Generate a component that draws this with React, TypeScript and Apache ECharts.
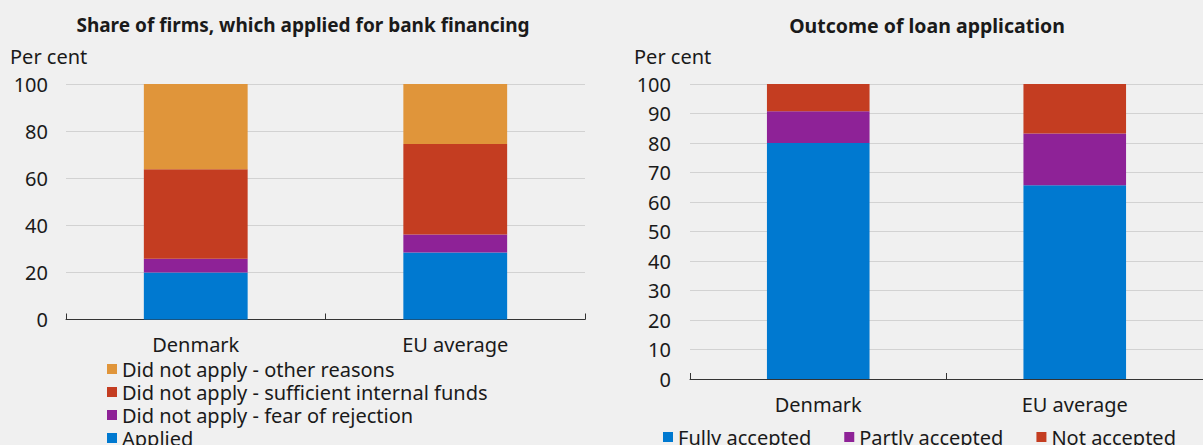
import React, { useEffect, useRef } from "react";
import * as echarts from "echarts";

const categories = ["Denmark", "EU average"];

// Left chart: share of firms, which applied for bank financing (per cent)
const applied = [20, 28.5];
const fearOfRejection = [5.8, 7.6];
const internalFunds = [38, 38.4];
const otherReasons = [36.2, 25.5];

// Right chart: outcome of loan application (per cent)
const fullyAccepted = [80, 65.7];
const partlyAccepted = [10.8, 17.5];
const notAccepted = [9.2, 16.8];

const leftLegend = [
  "Did not apply - other reasons",
  "Did not apply - sufficient internal funds",
  "Did not apply - fear of rejection",
  "Applied",
];
const rightLegend = ["Fully accepted", "Partly accepted", "Not accepted"];

const BLUE = "#0079D0";
const PURPLE = "#8E2297";
const RED = "#C43D21";
const ORANGE = "#E0953A";
const FONT = "Noto Sans";
const TXT = "#1a1a1a";

export default function App() {
  const ref = useRef<HTMLDivElement>(null);
  useEffect(() => {
    if (!ref.current) return;
    const chart = echarts.init(ref.current, undefined, { renderer: "svg" });
    const axisLabel = { color: TXT, fontSize: 20, fontFamily: FONT };
    const xAxisBase = {
      type: "category" as const,
      data: categories,
      axisLine: { lineStyle: { color: "#333", width: 1 } },
      axisTick: { show: true, inside: true, length: 6, lineStyle: { color: "#333" } },
      axisLabel: { ...axisLabel, margin: 15 },
    };
    const yAxisBase = {
      type: "value" as const,
      min: 0,
      max: 100,
      axisLine: { show: false },
      axisTick: { show: false },
      splitLine: { lineStyle: { color: "#d2d2d2", width: 1 } },
      axisLabel: { ...axisLabel, margin: 18 },
    };
    const bar = (name: string, data: number[], color: string, idx: number) => ({
      name,
      type: "bar" as const,
      stack: idx === 0 ? "left" : "right",
      xAxisIndex: idx,
      yAxisIndex: idx,
      barWidth: "40%",
      data,
      itemStyle: { color },
    });
    const legendText = { color: TXT, fontSize: 20, fontFamily: FONT, lineHeight: 20 };
    chart.setOption({
      animation: false,
      backgroundColor: "#F0F0F0",
      textStyle: { fontFamily: FONT },
      grid: [
        { left: 66, right: 618, top: 84, bottom: 125.5 },
        { left: 690, right: -7, top: 84, bottom: 66 },
      ],
      xAxis: [
        { ...xAxisBase, gridIndex: 0 },
        { ...xAxisBase, gridIndex: 1 },
      ],
      yAxis: [
        { ...yAxisBase, gridIndex: 0, interval: 20 },
        { ...yAxisBase, gridIndex: 1, interval: 10, axisLabel: { ...axisLabel, margin: 19 } },
      ],
      legend: [
        {
          data: leftLegend,
          orient: "vertical",
          left: 107,
          top: 359,
          height: 140,
          itemWidth: 10,
          itemHeight: 10,
          itemGap: 3,
          icon: "rect",
          textStyle: legendText,
          padding: 0,
        },
        {
          data: rightLegend,
          orient: "horizontal",
          left: 663,
          top: 427,
          width: 600,
          itemWidth: 10,
          itemHeight: 10,
          itemGap: 33,
          icon: "rect",
          textStyle: legendText,
          padding: 0,
        },
      ],
      graphic: [
        {
          type: "text",
          x: 303,
          y: 25,
          style: {
            text: "Share of firms, which applied for bank financing",
            fontSize: 19,
            fontWeight: "bold",
            fontFamily: FONT,
            fill: TXT,
            textAlign: "center",
            textVerticalAlign: "middle",
          },
        },
        {
          type: "text",
          x: 927,
          y: 25,
          style: {
            text: "Outcome of loan application",
            fontSize: 19.5,
            fontWeight: "bold",
            fontFamily: FONT,
            fill: TXT,
            textAlign: "center",
            textVerticalAlign: "middle",
          },
        },
        {
          type: "text",
          x: 10,
          y: 56,
          style: { text: "Per cent", fontSize: 20, fontFamily: FONT, fill: TXT, textVerticalAlign: "middle" },
        },
        {
          type: "text",
          x: 634,
          y: 56,
          style: { text: "Per cent", fontSize: 20, fontFamily: FONT, fill: TXT, textVerticalAlign: "middle" },
        },
      ],
      series: [
        bar("Applied", applied, BLUE, 0),
        bar("Did not apply - fear of rejection", fearOfRejection, PURPLE, 0),
        bar("Did not apply - sufficient internal funds", internalFunds, RED, 0),
        bar("Did not apply - other reasons", otherReasons, ORANGE, 0),
        bar("Fully accepted", fullyAccepted, BLUE, 1),
        bar("Partly accepted", partlyAccepted, PURPLE, 1),
        bar("Not accepted", notAccepted, RED, 1),
      ],
    });
    return () => chart.dispose();
  }, []);
  return (
    <div
      ref={ref}
      style={{ position: "absolute", left: 0, top: 0, width: 1203, height: 445 }}
    />
  );
}
